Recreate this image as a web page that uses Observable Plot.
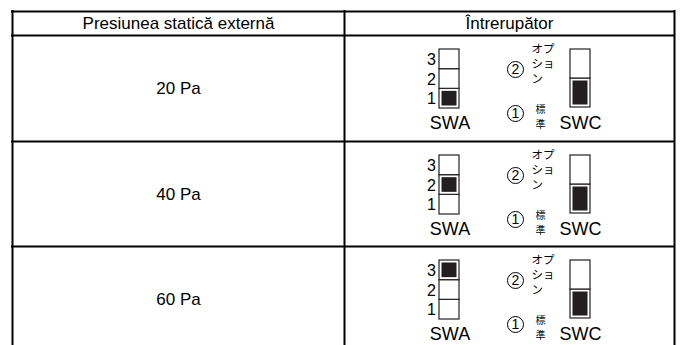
<!DOCTYPE html>
<html><head><meta charset="utf-8">
<script src="https://cdn.jsdelivr.net/npm/d3@7"></script>
<script src="https://cdn.jsdelivr.net/npm/@observablehq/plot@0.6"></script>
<style>body{margin:0;background:#fff} svg{display:block}</style>
</head><body><div id="chart"></div>
<script>
// ---- data ----
const headers = ["Presiunea statică externă", "Întrerupător"];
const pressures = ["20 Pa", "40 Pa", "60 Pa"];
const swaSetting = [1, 2, 3];   // SWA position that is ON for each pressure
const swcSetting = [1, 1, 1];   // SWC position (1 = 標準 standard, 2 = オプション option)
const swaLevels = [1, 2, 3];
const swcLevels = [1, 2];
const swNames = ["SWA", "SWC"];
const circled = ["2", "1"];
const optionLabel = ["オプ", "ショ", "ン"];
const standardLabel = ["標", "準"];

// ---- layout (pixels) ----
const W = 683, H = 345;
const L = 12, R = 674, DIV = 344, TOP = 11, HB = 35, RH = 105.5;
const swaX1 = 439, swaX2 = 459, swaTop = 14, swaCell = 19.67;
const swcX1 = 570, swcX2 = 590, swcTop = 14, swcCell = 29;
const inset = 2.5;

const rows = pressures.map((p, i) => ({p, i, top: Math.round(HB + i * RH), swa: swaSetting[i], swc: swcSetting[i]}));

const swaCells = rows.flatMap(r => swaLevels.map(l => ({
  ...r, l, y1: r.top + swaTop + (3 - l) * swaCell, y2: r.top + swaTop + (4 - l) * swaCell
})));
const swcCells = rows.flatMap(r => swcLevels.map(l => ({
  ...r, l, y1: r.top + swcTop + (2 - l) * swcCell, y2: r.top + swcTop + (3 - l) * swcCell
})));
const swaOn = swaCells.filter(d => d.l === d.swa);
const swcOn = swcCells.filter(d => d.l === d.swc);

const hLines = [TOP, HB, ...rows.slice(1).map(r => r.top)];
const vLines = [L, DIV, R];

const circ = rows.flatMap(r => circled.map((c, k) => ({c, y: r.top + (k === 0 ? 34 : 78)})));
const names = rows.flatMap(r => swNames.map((n, k) => ({n, x: k === 0 ? 449.5 : 580, y: r.top + 88})));

const jp = "Noto Sans CJK JP";
const chart = Plot.plot({
  width: W, height: H,
  marginTop: 0, marginBottom: 0, marginLeft: 0, marginRight: 0,
  x: {type: "linear", domain: [0, W], range: [0, W], axis: null},
  y: {type: "linear", domain: [0, H], range: [0, H], axis: null},
  style: {fontFamily: "Liberation Sans, Arial, sans-serif", background: "#fff", color: "#000"},
  marks: [
    Plot.ruleY(hLines, {y: d => d, x1: L - 1, x2: R + 1, stroke: "#000", strokeWidth: 2}),
    Plot.ruleX(vLines, {x: d => d, y1: TOP - 1, y2: H, stroke: "#000", strokeWidth: 2}),
    Plot.text(headers, {x: (d, i) => i === 0 ? (L + DIV) / 2 : (DIV + R) / 2, y: (TOP + HB) / 2 + 0.5, text: d => d, fontSize: 17, fill: "#000"}),
    Plot.text(rows, {x: (L + DIV) / 2, y: d => d.top + 53, text: "p", fontSize: 17, fill: "#000"}),
    // SWA
    Plot.rect(swaCells, {x1: swaX1, x2: swaX2, y1: "y1", y2: "y2", fill: "#fff", stroke: "#222", strokeWidth: 1.2}),
    Plot.rect(swaOn, {x1: swaX1 + inset, x2: swaX2 - inset, y1: d => d.y1 + inset, y2: d => d.y2 - inset, fill: "#231f20"}),
    Plot.text(swaCells, {x: 435.5, y: d => (d.y1 + d.y2) / 2 + 0.5, text: "l", textAnchor: "end", fontSize: 16, fill: "#000"}),
    // SWC
    Plot.rect(swcCells, {x1: swcX1, x2: swcX2, y1: "y1", y2: "y2", fill: "#fff", stroke: "#222", strokeWidth: 1.2}),
    Plot.rect(swcOn, {x1: swcX1 + inset, x2: swcX2 - inset, y1: d => d.y1 + inset, y2: d => d.y2 - inset, fill: "#231f20"}),
    Plot.text(names, {x: "x", y: "y", text: "n", fontSize: 18, fill: "#000"}),
    // circled numbers
    Plot.dot(circ, {x: 515, y: "y", r: 8, stroke: "#000", strokeWidth: 1, fill: "none"}),
    Plot.text(circ, {x: 515, y: d => d.y + 0.5, text: "c", fontSize: 14, fill: "#000"}),
    // option / standard labels (stacked vertically, one text each)
    Plot.text(rows, {x: 531, y: d => d.top + 7, text: () => optionLabel.join("\n"), lineAnchor: "top",
      lineHeight: 1.3, textAnchor: "start", fontSize: 11.5, fontFamily: jp, fill: "#000"}),
    Plot.text(rows, {x: 535, y: d => d.top + 66.5, text: () => standardLabel.join("\n"), lineAnchor: "top",
      lineHeight: 1.5, textAnchor: "start", fontSize: 10, fontFamily: jp, fill: "#000"})
  ]
});
document.getElementById("chart").appendChild(chart);
</script>
</body></html>
